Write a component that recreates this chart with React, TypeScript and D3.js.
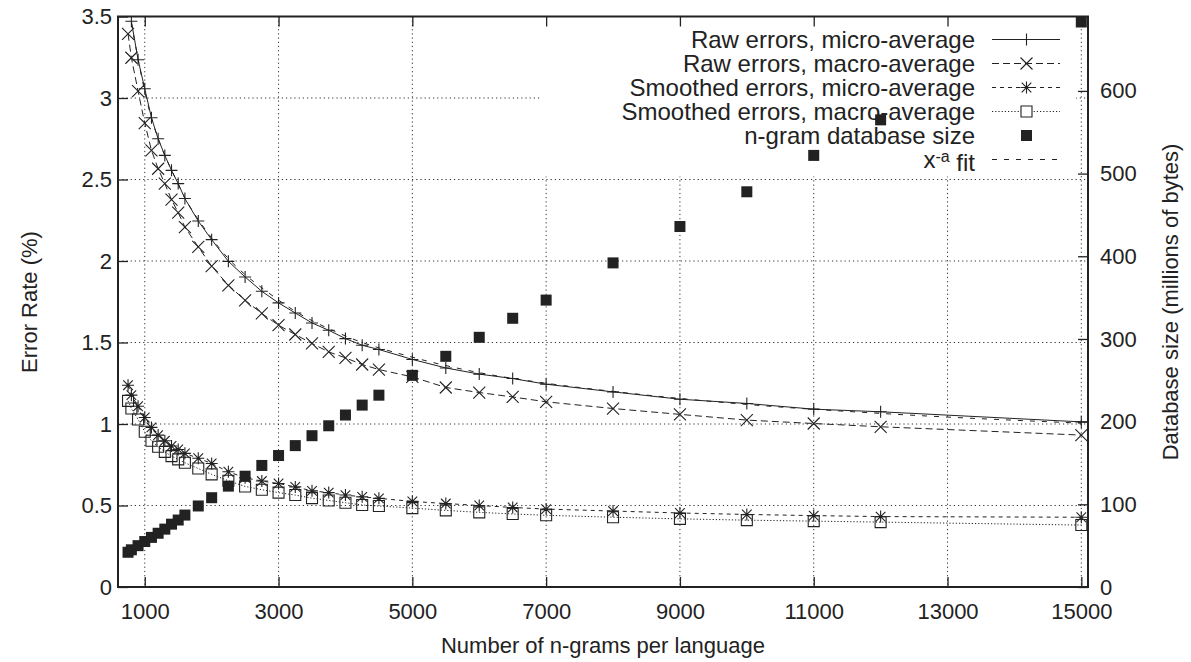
import React, { useEffect, useRef } from 'react';
import * as d3 from 'd3';

// n-grams per language (x values shared by all series)
const nGrams = [750, 800, 900, 1000, 1100, 1200, 1300, 1400, 1500, 1600, 1800, 2000, 2250, 2500, 2750, 3000,
  3250, 3500, 3750, 4000, 4250, 4500, 5000, 5500, 6000, 6500, 7000, 8000, 9000, 10000, 11000, 12000, 15000];

// error rates (%)
const rawMicro = [null, 3.471, 3.235, 3.057, 2.879, 2.75, 2.648, 2.556, 2.475, 2.383, 2.245, 2.131, 1.998, 1.902,
  1.814, 1.743, 1.681, 1.62, 1.575, 1.524, 1.483, 1.457, 1.396, 1.344, 1.306, 1.279, 1.244, 1.197, 1.152, 1.126,
  1.091, 1.075, 1.013];
const rawMacro = [3.394, 3.247, 3.042, 2.846, 2.679, 2.566, 2.475, 2.376, 2.297, 2.208, 2.086, 1.968, 1.851, 1.759,
  1.678, 1.606, 1.549, 1.494, 1.442, 1.406, 1.365, 1.334, 1.289, 1.224, 1.193, 1.166, 1.136, 1.095, 1.059, 1.024,
  1.003, 0.983, 0.932];
const smoothMicro = [1.238, 1.177, 1.109, 1.04, 0.979, 0.932, 0.897, 0.865, 0.844, 0.82, 0.79, 0.758, 0.707, 0.67,
  0.65, 0.635, 0.614, 0.59, 0.579, 0.564, 0.553, 0.544, 0.525, 0.512, 0.5, 0.488, 0.478, 0.466, 0.454, 0.445,
  0.438, 0.432, 0.428];
const smoothMacro = [1.142, 1.095, 1.028, 0.952, 0.897, 0.86, 0.829, 0.803, 0.783, 0.762, 0.727, 0.691, 0.652, 0.617,
  0.597, 0.579, 0.564, 0.545, 0.531, 0.517, 0.503, 0.497, 0.484, 0.47, 0.458, 0.448, 0.44, 0.428, 0.418, 0.41,
  0.404, 0.398, 0.38];

// database size (millions of bytes)
const dbSize = [42, 45, 50, 55, 60, 65, 70, 76, 81, 87, 98, 108, 122, 134, 147, 159, 171, 183, 195, 208, 220, 232,
  256, 279, 302, 325, 347, 392, 436, 478, 522, 565, 684];

// x^-a fit
const fitX = [800, 1000, 1500, 2000, 3000, 4000, 5000, 6000, 7000, 8000, 10000, 12000, 15000];
const fitY = [3.46, 3.04, 2.47, 2.14, 1.76, 1.54, 1.41, 1.315, 1.25, 1.2, 1.12, 1.065, 1.005];

const xTicks = [1000, 3000, 5000, 7000, 9000, 11000, 13000, 15000];
const yTicks = [0, 0.5, 1, 1.5, 2, 2.5, 3, 3.5];
const y2Ticks = [0, 100, 200, 300, 400, 500, 600];

const legendLabels = [
  'Raw errors, micro-average',
  'Raw errors, macro-average',
  'Smoothed errors, micro-average',
  'Smoothed errors, macro-average',
  'n-gram database size',
];

const W = 1191;
const H = 662;
const left = 118, right = 1088, top = 16.5, bottom = 587;
const FONT = "'Liberation Sans', Arial, Helvetica, sans-serif";
const INK = '#222';

type Pt = [number, number];

const markerPath = (kind: string, s: number) => {
  if (kind === 'plus') return `M${-s},0H${s}M0,${-s}V${s}`;
  if (kind === 'cross') return `M${-s},${-s}L${s},${s}M${-s},${s}L${s},${-s}`;
  if (kind === 'star') {
    const d = s * 0.8;
    return `M${-s},0H${s}M0,${-s}V${s}M${-d},${-d}L${d},${d}M${-d},${d}L${d},${-d}`;
  }
  return `M${-s},${-s}H${s}V${s}H${-s}Z`;
};

const App = () => {
  const ref = useRef<SVGSVGElement>(null);

  useEffect(() => {
    document.body.style.margin = '0';
    const svg = d3.select(ref.current);
    svg.selectAll('*').remove();

    const x = d3.scaleLinear().domain([600, 15100]).range([left, right]);
    const y = d3.scaleLinear().domain([0, 3.5]).range([bottom, top]);
    const y2 = d3.scaleLinear().domain([0, 690]).range([bottom, top]);

    svg.append('defs').append('clipPath').attr('id', 'plot-clip')
      .append('rect').attr('x', left).attr('y', top).attr('width', right - left).attr('height', bottom - top);

    // grid
    const grid = svg.append('g').attr('stroke', '#333').attr('stroke-width', 1).attr('stroke-dasharray', '1.2,3');
    grid.selectAll('line.gx').data(xTicks).enter().append('line')
      .attr('x1', d => x(d)).attr('x2', d => x(d)).attr('y1', top).attr('y2', bottom);
    grid.selectAll('line.gy').data(yTicks.filter(d => d > 0 && d < 3.5)).enter().append('line')
      .attr('x1', left).attr('x2', right).attr('y1', d => y(d)).attr('y2', d => y(d));

    // opaque key box
    svg.append('rect').attr('x', 541).attr('y', top).attr('width', 535).attr('height', 160).attr('fill', '#fff');

    // legend
    const key = svg.append('g').attr('font-family', FONT).attr('font-size', 24).attr('fill', INK);
    const rowY = (i: number) => 39.5 + i * 24;
    const sx1 = 992, sx2 = 1060, smid = 1026.5;
    legendLabels.forEach((t, i) => {
      key.append('text').attr('x', 975).attr('y', rowY(i)).attr('dy', '0.35em').attr('text-anchor', 'end').text(t);
    });
    const fitText = key.append('text').attr('x', 975).attr('y', rowY(5)).attr('dy', '0.35em').attr('text-anchor', 'end');
    fitText.append('tspan').text('x');
    fitText.append('tspan').attr('dy', '-0.4em').attr('font-size', 16).text('-a');
    fitText.append('tspan').attr('dy', '0.4em').text(' fit');

    const styles = [
      { dash: null, marker: 'plus', size: 6 },
      { dash: '7,4', marker: 'cross', size: 6 },
      { dash: '4,4', marker: 'star', size: 6 },
      { dash: '1.2,2', marker: 'box', size: 5.5 },
    ];
    styles.forEach((s, i) => {
      key.append('line').attr('x1', sx1).attr('x2', sx2).attr('y1', rowY(i)).attr('y2', rowY(i))
        .attr('stroke', INK).attr('stroke-width', 1).attr('stroke-dasharray', s.dash);
      key.append('path').attr('d', markerPath(s.marker, s.size))
        .attr('transform', `translate(${smid},${rowY(i)})`)
        .attr('fill', s.marker === 'box' ? '#fff' : 'none').attr('stroke', INK).attr('stroke-width', 1.1);
    });
    key.append('rect').attr('x', smid - 5.5).attr('y', rowY(4) - 5.5).attr('width', 11).attr('height', 11).attr('fill', INK);
    key.append('line').attr('x1', sx1).attr('x2', sx2).attr('y1', rowY(5)).attr('y2', rowY(5))
      .attr('stroke', INK).attr('stroke-width', 1).attr('stroke-dasharray', '5,7');

    // data
    const plot = svg.append('g').attr('clip-path', 'url(#plot-clip)');
    const series = [rawMicro, rawMacro, smoothMicro, smoothMacro];
    series.forEach((vals, i) => {
      const pts: Pt[] = nGrams.map((n, k) => [n, vals[k] as number]).filter(p => p[1] != null) as Pt[];
      const line = d3.line<Pt>().x(d => x(d[0])).y(d => y(d[1]));
      plot.append('path').attr('d', line(pts)).attr('fill', 'none').attr('stroke', INK)
        .attr('stroke-width', 1).attr('stroke-dasharray', styles[i].dash);
      plot.selectAll(null).data(pts.filter(p => p[1] <= 3.5)).enter().append('path')
        .attr('d', markerPath(styles[i].marker, styles[i].size))
        .attr('transform', d => `translate(${x(d[0])},${y(d[1])})`)
        .attr('fill', 'none').attr('stroke', INK).attr('stroke-width', 1.1);
    });

    const fitPts: Pt[] = fitX.map((n, k) => [n, fitY[k]]);
    plot.append('path')
      .attr('d', d3.line<Pt>().x(d => x(d[0])).y(d => y(d[1])).curve(d3.curveMonotoneX)(fitPts))
      .attr('fill', 'none').attr('stroke', INK).attr('stroke-width', 1).attr('stroke-dasharray', '5,7');

    svg.append('g').selectAll('rect').data(nGrams.map((n, k) => [n, dbSize[k]] as Pt)).enter().append('rect')
      .attr('x', d => x(d[0]) - 5.5).attr('y', d => Math.max(y2(d[1]) - 5.5, top))
      .attr('width', 11).attr('height', 11).attr('fill', INK);

    // axes
    const fmtY = (d: d3.NumberValue) => String(+d);
    const axB = svg.append('g').attr('transform', `translate(0,${bottom})`)
      .call(d3.axisBottom(x).tickValues(xTicks).tickSize(-10).tickPadding(16).tickFormat(d3.format('d')));
    const axT = svg.append('g').attr('transform', `translate(0,${top})`)
      .call(d3.axisTop(x).tickValues(xTicks).tickSize(-10).tickFormat(() => ''));
    const axL = svg.append('g').attr('transform', `translate(${left},0)`)
      .call(d3.axisLeft(y).tickValues(yTicks).tickSize(-10).tickPadding(6).tickFormat(fmtY));
    const axR = svg.append('g').attr('transform', `translate(${right},0)`)
      .call(d3.axisRight(y2).tickValues(y2Ticks).tickSize(-10).tickPadding(12).tickFormat(fmtY));
    [axB, axT, axL, axR].forEach(a => {
      a.select('.domain').remove();
      a.selectAll('line').attr('stroke', INK).attr('stroke-width', 1.3);
      a.selectAll('text').attr('font-family', FONT).attr('font-size', 22).attr('fill', INK);
    });

    svg.append('rect').attr('x', left).attr('y', top).attr('width', right - left).attr('height', bottom - top)
      .attr('fill', 'none').attr('stroke', INK).attr('stroke-width', 2);

    // axis titles
    const titles = svg.append('g').attr('font-family', FONT).attr('font-size', 22).attr('fill', INK)
      .attr('text-anchor', 'middle');
    titles.append('text').attr('x', (left + right) / 2).attr('y', 653).text('Number of n-grams per language');
    titles.append('text').attr('transform', 'translate(37,302) rotate(-90)').text('Error Rate (%)');
    titles.append('text').attr('transform', 'translate(1178,302) rotate(-90)').text('Database size (millions of bytes)');
  }, []);

  return <svg ref={ref} width={W} height={H} style={{ display: 'block', background: '#fff' }} />;
};

export default App;
